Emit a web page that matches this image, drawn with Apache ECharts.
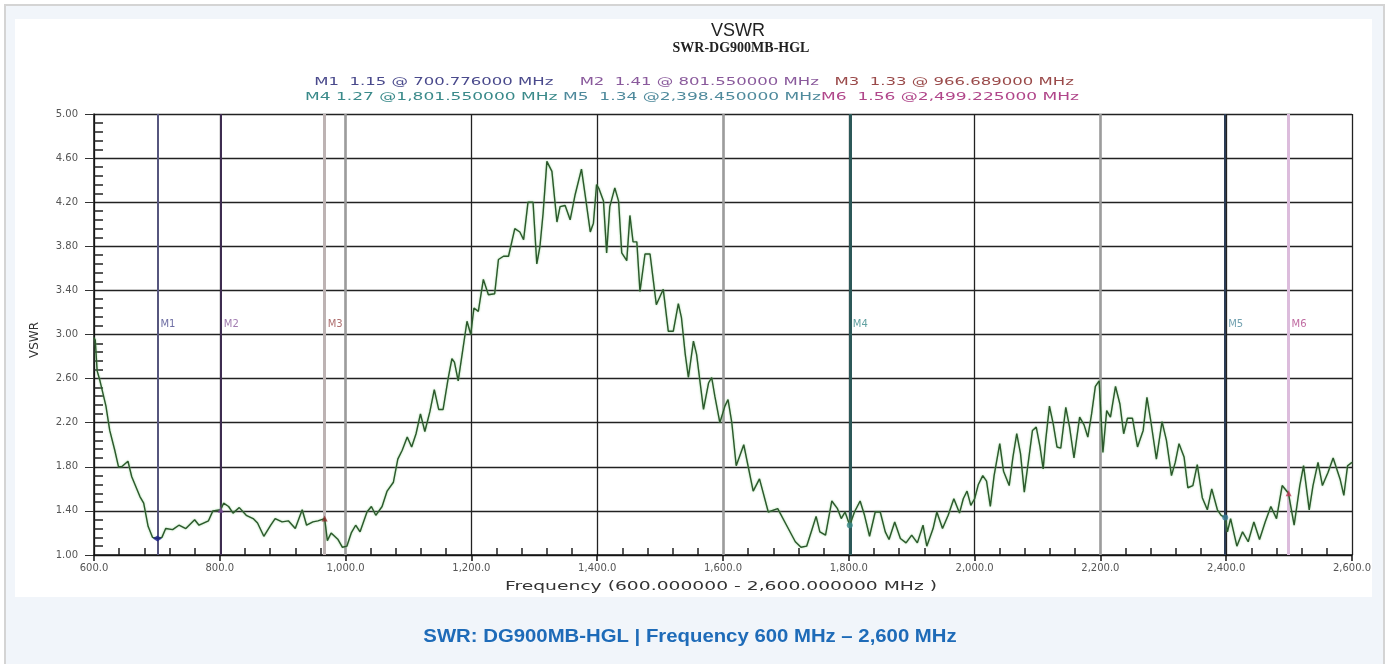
<!DOCTYPE html>
<html>
<head>
<meta charset="utf-8">
<title>VSWR - SWR-DG900MB-HGL</title>
<script src="https://cdn.jsdelivr.net/npm/echarts@6/dist/echarts.min.js"></script>
<style>
  html, body { margin: 0; padding: 0; background: #ffffff; overflow: hidden; }
  #frame { position: absolute; left: 4px; top: 4px; width: 1377px; height: 700px;
           background: #f1f5fa; border: 2px solid #d4d4d4; }
  #panel { position: absolute; left: 15px; top: 19px; width: 1357px; height: 578px; background: #ffffff; }
  #chart { position: absolute; left: 0; top: 0; width: 1387px; height: 664px; }
</style>
</head>
<body>
<div id="frame"></div>
<div id="panel"></div>
<div id="chart"></div>
<script>
// sweep (MHz, VSWR)
var freq = [600, 602, 605, 609.5, 619, 625, 633, 639, 644, 654, 660, 673, 679, 686, 693, 700.8, 708, 714, 725, 735,
  746, 760, 767, 782, 789, 801.5, 806, 814, 821, 831, 842, 853, 860, 870, 881, 888, 899, 909, 920, 931,
  938, 948, 956, 966.7, 971, 977, 988, 995, 1002, 1009, 1016, 1023, 1034, 1041, 1048, 1058, 1066, 1076, 1083, 1090,
  1098, 1105, 1112, 1119, 1126, 1134, 1141, 1148, 1155, 1163, 1169, 1173, 1179, 1186, 1193, 1199, 1204, 1211, 1219, 1227,
  1237, 1243, 1251, 1259, 1269, 1277, 1283, 1290, 1298, 1304, 1309, 1314, 1320, 1328, 1336, 1341, 1349, 1357, 1365, 1375,
  1381, 1389, 1394, 1399, 1403, 1410, 1415, 1420, 1428, 1434, 1439, 1447, 1452, 1457, 1463, 1468, 1476, 1484, 1489, 1494,
  1505, 1513, 1521, 1529, 1534, 1540, 1545, 1553, 1558, 1569, 1577, 1582, 1587, 1595, 1603, 1608, 1614, 1621, 1633, 1648,
  1658, 1672, 1687, 1701, 1715, 1724, 1733, 1742, 1748, 1754, 1763, 1773, 1782, 1788, 1794, 1801.5, 1809, 1818, 1825, 1833,
  1842, 1850, 1858, 1864, 1873, 1882, 1891, 1900, 1909, 1918, 1924, 1934, 1940, 1949, 1958, 1967, 1976, 1982, 1988, 1994,
  2000, 2006, 2013, 2019, 2025, 2031, 2040, 2046, 2055, 2061, 2067, 2073, 2079, 2086, 2092, 2098, 2104, 2109, 2113, 2119,
  2125, 2131, 2137, 2145, 2151, 2158, 2167, 2174, 2180, 2186, 2192, 2198, 2204, 2210, 2216, 2224, 2231, 2237, 2243, 2251,
  2259, 2268, 2274, 2280, 2289, 2298, 2305, 2313, 2319, 2325, 2333, 2339, 2347, 2354, 2362, 2370, 2377, 2386, 2392, 2398.5,
  2402, 2407, 2417, 2426, 2435, 2444, 2453, 2462, 2471, 2480, 2489, 2499, 2508, 2517, 2523, 2532, 2538, 2546, 2553, 2562,
  2570, 2581, 2587, 2593, 2600];
var vswr = [2.97, 2.95, 2.67, 2.58, 2.35, 2.13, 1.95, 1.80, 1.80, 1.85, 1.71, 1.53, 1.47, 1.26, 1.16, 1.15, 1.16, 1.24, 1.23, 1.27,
  1.24, 1.32, 1.27, 1.31, 1.40, 1.41, 1.47, 1.44, 1.38, 1.43, 1.36, 1.33, 1.29, 1.17, 1.27, 1.33, 1.30, 1.31, 1.24, 1.41,
  1.27, 1.30, 1.31, 1.33, 1.13, 1.20, 1.14, 1.07, 1.08, 1.20, 1.27, 1.21, 1.39, 1.44, 1.36, 1.44, 1.58, 1.66, 1.87, 1.95,
  2.07, 1.98, 2.10, 2.28, 2.12, 2.30, 2.50, 2.32, 2.32, 2.60, 2.78, 2.75, 2.58, 2.85, 3.12, 3.00, 3.24, 3.21, 3.50, 3.36,
  3.37, 3.68, 3.71, 3.71, 3.96, 3.93, 3.86, 4.20, 4.20, 3.64, 3.80, 4.10, 4.57, 4.48, 4.02, 4.16, 4.17, 4.04, 4.27, 4.50,
  4.26, 3.93, 4.01, 4.36, 4.32, 4.21, 3.74, 4.16, 4.33, 4.21, 3.74, 3.67, 4.08, 3.84, 3.84, 3.39, 3.73, 3.73, 3.50, 3.27,
  3.41, 3.03, 3.03, 3.28, 3.15, 2.82, 2.61, 2.94, 2.82, 2.32, 2.56, 2.61, 2.44, 2.20, 2.35, 2.41, 2.20, 1.81, 2.00, 1.58,
  1.69, 1.39, 1.42, 1.27, 1.12, 1.07, 1.08, 1.24, 1.35, 1.21, 1.18, 1.49, 1.42, 1.33, 1.39, 1.27, 1.39, 1.49, 1.36, 1.17,
  1.39, 1.39, 1.21, 1.14, 1.30, 1.15, 1.11, 1.18, 1.11, 1.27, 1.08, 1.24, 1.39, 1.24, 1.36, 1.51, 1.38, 1.51, 1.58, 1.45,
  1.51, 1.64, 1.72, 1.67, 1.44, 1.72, 2.01, 1.76, 1.63, 1.89, 2.10, 1.92, 1.57, 1.87, 2.13, 2.16, 1.98, 1.78, 2.04, 2.35,
  2.19, 1.98, 1.97, 2.34, 2.16, 1.88, 2.25, 2.18, 2.07, 2.28, 2.53, 2.58, 1.93, 2.31, 2.25, 2.53, 2.37, 2.10, 2.24, 2.24,
  1.98, 2.13, 2.43, 2.22, 1.87, 2.21, 2.04, 1.72, 1.84, 2.01, 1.89, 1.61, 1.63, 1.82, 1.52, 1.41, 1.60, 1.41, 1.36, 1.34,
  1.21, 1.33, 1.08, 1.21, 1.12, 1.30, 1.14, 1.30, 1.44, 1.33, 1.63, 1.56, 1.27, 1.63, 1.81, 1.41, 1.63, 1.84, 1.63, 1.75,
  1.88, 1.69, 1.54, 1.81, 1.84];

// markers
var markerNames = ['M1', 'M2', 'M3', 'M4', 'M5', 'M6'];
var markerFreq = [700.776, 801.55, 966.689, 1801.55, 2398.45, 2499.225];
var markerVswr = [1.15, 1.41, 1.33, 1.27, 1.34, 1.56];
var markerLabelLevel = 3.09;

// axis ticks
var xMin = 600, xMax = 2600, xStep = 200;
var yMin = 1, yMax = 5, yStep = 0.4;
// grid lines that come out grey in the picture
var greyGrid = [1000, 1600, 2200];

var textColors = ['#4a4a8c', '#8a5a9c', '#9a4a4a', '#3a8a8a', '#4f8a9c', '#b0468a'];
var lineColors = ['#56567e', '#3e2c50', '#bdb3b3', '#2c5858', '#2c3c54', '#dcbcdc'];
var lineWidths = [2, 2, 3, 3, 2, 3];
var symbols = ['diamond', 'triangle', 'triangle', 'circle', 'circle', 'triangle'];
var symColors = ['#1c1c8c', '#7a4a9a', '#8a2a2a', '#3a8a8a', '#3a7a9a', '#c03a5a'];

function withCommas(num, digits) {
  var s = num.toFixed(digits).split('.');
  return s[0].replace(/\B(?=(\d{3})+(?!\d))/g, ',') + (s[1] ? '.' + s[1] : '');
}

var chart = echarts.init(document.getElementById('chart'));

var points = freq.map(function (f, i) { return [f, vswr[i]]; });

function entry(i, gap) {
  return '{m' + i + '|' + markerNames[i] + gap + markerVswr[i].toFixed(2) + ' @' +
    (markerFreq[i] < 1000 ? ' ' : '') + withCommas(markerFreq[i], 6) + ' MHz}';
}
var rich = {};
markerNames.forEach(function (n, i) {
  rich['m' + i] = { fill: textColors[i], fontSize: 11, fontFamily: 'DejaVu Sans' };
});
var line1 = entry(0, '  ') + '     ' + entry(1, '  ') + '   ' + entry(2, '  ');
var line2 = entry(3, ' ') + ' ' + entry(4, '  ') + entry(5, '  ');

var markLines = markerFreq.map(function (f, i) {
  return { xAxis: f, lineStyle: { color: lineColors[i], width: lineWidths[i], type: 'solid' } };
});
greyGrid.forEach(function (f) {
  markLines.unshift({ xAxis: f, lineStyle: { color: '#9c9c9c', width: 2.5, type: 'solid' } });
});

var option = {
  animation: false,
  grid: { left: 94, right: 35, top: 114, bottom: 109, containLabel: false, outerBoundsMode: 'none' },
  xAxis: [{
    type: 'value', min: xMin, max: xMax, interval: xStep, position: 'bottom',
    axisLine: { show: true, lineStyle: { color: '#111', width: 1.5 } },
    axisTick: { show: true, length: 6, lineStyle: { color: '#111', width: 1.5 } },
    axisLabel: { margin: 8, fontSize: 10, fontFamily: 'DejaVu Sans', color: '#555',
      formatter: function (v) { return withCommas(v, 1); } },
    splitLine: { show: true, lineStyle: { color: '#222', width: 1.3 } }
  }, {
    type: 'value', min: xMin, max: xMax, interval: xStep, position: 'bottom',
    axisLine: { show: false }, axisLabel: { show: false }, splitLine: { show: false },
    axisTick: { show: false, inside: true },
    minorTick: { show: true, splitNumber: 5, length: 7, lineStyle: { color: '#222', width: 1.5 } }
  }],
  yAxis: [{
    type: 'value', min: yMin, max: yMax, interval: yStep, position: 'left',
    axisLine: { show: true, lineStyle: { color: '#111', width: 1.5 } },
    axisTick: { show: true, length: 9, lineStyle: { color: '#333', width: 1 } },
    axisLabel: { margin: 16, fontSize: 10, fontFamily: 'DejaVu Sans', color: '#555',
      formatter: function (v) { return v.toFixed(2); } },
    splitLine: { show: true, lineStyle: { color: '#222', width: 1.3 } }
  }, {
    type: 'value', min: yMin, max: yMax, interval: yStep, position: 'left',
    axisLine: { show: false }, axisLabel: { show: false }, splitLine: { show: false },
    axisTick: { show: false, inside: true },
    minorTick: { show: true, splitNumber: 5, length: 9, lineStyle: { color: '#222', width: 1.5 } }
  }],
  series: [{
    name: 'VSWR', type: 'line', xAxisIndex: 0, yAxisIndex: 0,
    data: points, showSymbol: false, smooth: false, z: 5,
    lineStyle: { color: '#2c582c', width: 1.4, shadowColor: 'rgba(120,200,120,0.8)', shadowBlur: 2 },
    markLine: { silent: true, symbol: 'none', label: { show: false }, data: markLines, z: 3 }
  }, {
    name: 'markers', type: 'scatter', z: 6,
    data: markerFreq.map(function (f, i) {
      return { value: [f, markerVswr[i]], symbol: symbols[i],
        symbolSize: i === 0 ? [9, 6] : 6, itemStyle: { color: symColors[i] } };
    })
  }, {
    name: 'markerLabels', type: 'scatter', symbolSize: 0, z: 6,
    data: markerFreq.map(function (f, i) {
      return { value: [f, markerLabelLevel], name: markerNames[i],
        label: { show: true, position: 'right', distance: 3, formatter: '{b}', color: textColors[i],
          fontSize: 10, fontFamily: 'DejaVu Sans' } };
    })
  }],
  graphic: [
    { type: 'text', x: 738, y: 31, style: { text: 'VSWR', fill: '#222', textAlign: 'center', textVerticalAlign: 'middle',
      font: '18px "Liberation Sans"' } },
    { type: 'text', x: 741, y: 48, style: { text: 'SWR-DG900MB-HGL', fill: '#222', textAlign: 'center', textVerticalAlign: 'middle',
      font: 'bold 14px "Liberation Serif"' } },
    { type: 'text', x: 694, y: 82, scaleX: 1.5, style: { text: line1, rich: rich, textAlign: 'center', textVerticalAlign: 'middle',
      font: '11px "DejaVu Sans"' } },
    { type: 'text', x: 692, y: 97, scaleX: 1.55, style: { text: line2, rich: rich, textAlign: 'center', textVerticalAlign: 'middle',
      font: '11px "DejaVu Sans"' } },
    { type: 'text', x: 721, y: 587, scaleX: 1.44, style: { text: 'Frequency (600.000000 - 2,600.000000 MHz )', fill: '#333',
      textAlign: 'center', textVerticalAlign: 'middle', font: '13px "DejaVu Sans"' } },
    { type: 'text', x: 35, y: 340, rotation: Math.PI / 2, style: { text: 'VSWR', fill: '#333',
      textAlign: 'center', textVerticalAlign: 'middle', font: '12px "DejaVu Sans"' } },
    { type: 'text', x: 690, y: 637, scaleX: 1.07, style: { text: 'SWR: DG900MB-HGL | Frequency 600 MHz \u2013 2,600 MHz', fill: '#1e6bb8',
      textAlign: 'center', textVerticalAlign: 'middle', font: 'bold 19px "Liberation Sans"' } }
  ]
};
chart.setOption(option);
</script>
</body>
</html>
